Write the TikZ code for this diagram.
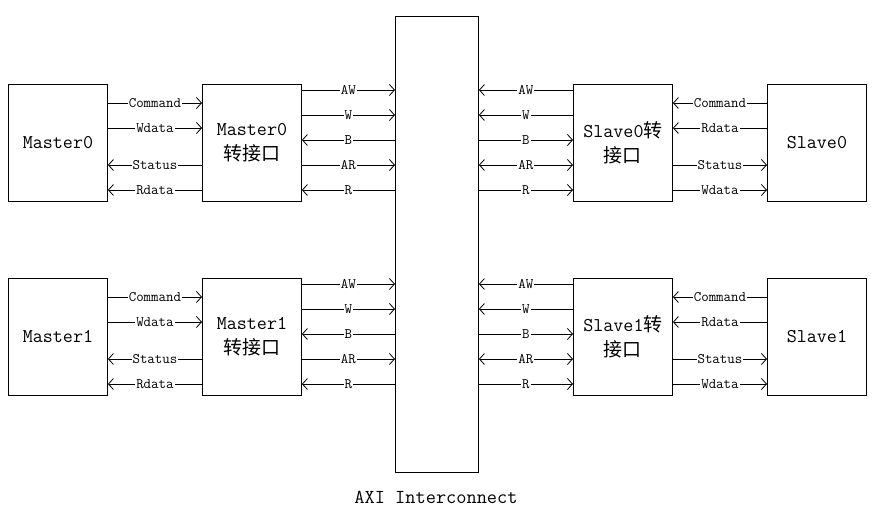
\documentclass[tikz,border=0pt]{standalone}
\usepackage{fontspec}
\newfontfamily\cjk{Noto Sans CJK SC}
\usetikzlibrary{arrows.meta}
\newcommand\zh[1]{{\cjk\fontsize{19}{25}\selectfont #1}}
\newcommand\sigln[5]{%
  \path (0,#3) coordinate (tmpy);
  \draw[sig,#5] (#1.east |- tmpy) -- node[lbl]{#4} (#2.west |- tmpy);}
\begin{document}
\begin{tikzpicture}[x=1pt,y=-1pt,
  box/.style={draw,line width=0.9pt,anchor=north west,minimum width=99pt,minimum height=117pt,
    inner sep=0pt,align=center,font=\ttfamily\fontsize{19.5}{25}\selectfont},
  sig/.style={line width=0.8pt},
  lbl/.style={fill=white,inner sep=1pt,font=\ttfamily\fontsize{14.5}{14.5}\selectfont},
  >={Straight Barb[length=5pt,width=11pt]}]
\useasboundingbox (0,0) rectangle (879,519);

% boxes row 0
\node[box] (m0)  at (8,84)   {Master0};
\node[box] (mi0) at (202,84) {Master0\\\zh{转接口}};
\node[box] (si0) at (573,84) {Slave0\zh{转}\\\zh{接口}};
\node[box] (s0)  at (767,84) {Slave0};
% boxes row 1
\node[box] (m1)  at (8,278)   {Master1};
\node[box] (mi1) at (202,278) {Master1\\\zh{转接口}};
\node[box] (si1) at (573,278) {Slave1\zh{转}\\\zh{接口}};
\node[box] (s1)  at (767,278) {Slave1};
% interconnect
\node[draw,line width=0.9pt,anchor=north west,minimum width=83pt,minimum height=456pt,inner sep=0pt] (ic) at (395,16) {};
\node[font=\ttfamily\fontsize{19.8}{22}\selectfont] (axi) at (436,497) {AXI Interconnect};

% row 0 signals
\sigln{m0}{mi0}{103}{Command}{->}
\sigln{m0}{mi0}{128}{Wdata}{->}
\sigln{m0}{mi0}{165}{Status}{<-}
\sigln{m0}{mi0}{190}{Rdata}{<-}
\sigln{mi0}{ic}{90}{AW}{->}
\sigln{mi0}{ic}{115}{W}{->}
\sigln{mi0}{ic}{140}{B}{<-}
\sigln{mi0}{ic}{165}{AR}{->}
\sigln{mi0}{ic}{190}{R}{<-}
\sigln{ic}{si0}{90}{AW}{<-}
\sigln{ic}{si0}{115}{W}{<-}
\sigln{ic}{si0}{140}{B}{->}
\sigln{ic}{si0}{165}{AR}{<->}
\sigln{ic}{si0}{190}{R}{->}
\sigln{si0}{s0}{103}{Command}{<-}
\sigln{si0}{s0}{128}{Rdata}{<-}
\sigln{si0}{s0}{165}{Status}{->}
\sigln{si0}{s0}{190}{Wdata}{->}

% row 1 signals
\sigln{m1}{mi1}{297}{Command}{->}
\sigln{m1}{mi1}{322}{Wdata}{->}
\sigln{m1}{mi1}{359}{Status}{<-}
\sigln{m1}{mi1}{384}{Rdata}{<-}
\sigln{mi1}{ic}{284}{AW}{->}
\sigln{mi1}{ic}{309}{W}{->}
\sigln{mi1}{ic}{334}{B}{<-}
\sigln{mi1}{ic}{359}{AR}{->}
\sigln{mi1}{ic}{384}{R}{<-}
\sigln{ic}{si1}{284}{AW}{<-}
\sigln{ic}{si1}{309}{W}{<-}
\sigln{ic}{si1}{334}{B}{->}
\sigln{ic}{si1}{359}{AR}{<->}
\sigln{ic}{si1}{384}{R}{->}
\sigln{si1}{s1}{297}{Command}{<-}
\sigln{si1}{s1}{322}{Rdata}{<-}
\sigln{si1}{s1}{359}{Status}{->}
\sigln{si1}{s1}{384}{Wdata}{->}
\end{tikzpicture}
\end{document}
